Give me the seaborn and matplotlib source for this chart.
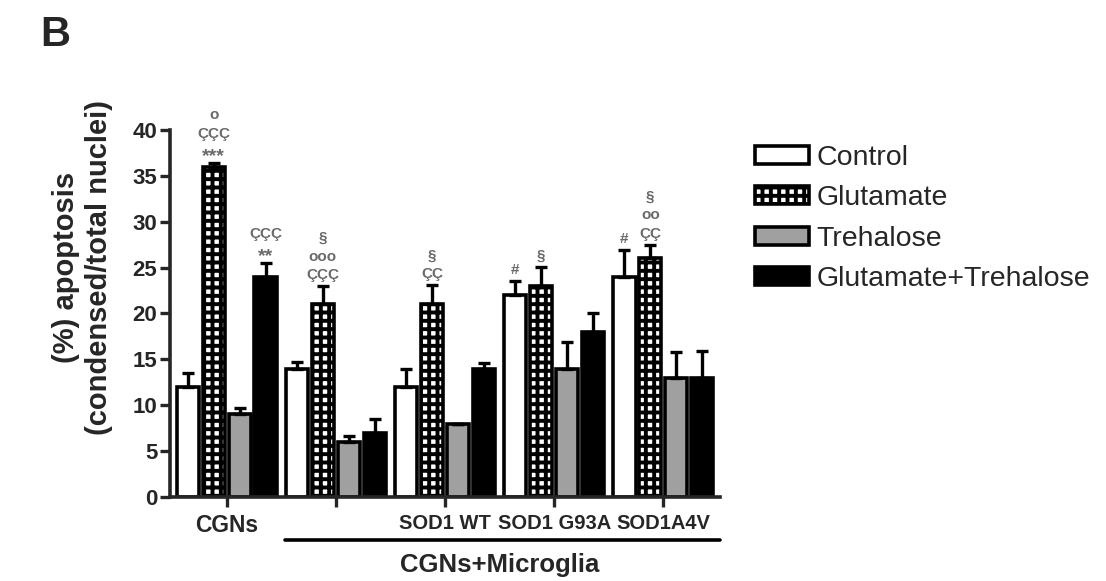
import numpy as np
import pandas as pd
import matplotlib
matplotlib.use('Agg')
import matplotlib.pyplot as plt
import seaborn as sns

# -- -- data -- --
groups = ['CGNs', ' ', 'SOD1 WT', 'SOD1 G93A', 'SOD1A4V']
treatments = ['Control', 'Glutamate', 'Trehalose', 'Glutamate+Trehalose']

control = [12, 14, 12, 22, 24]
control_err = [1.5, 0.7, 2.0, 1.5, 2.9]
glutamate = [36, 21, 21, 23, 26]
glutamate_err = [0.4, 2.0, 2.1, 2.1, 1.5]
trehalose = [9, 6, 8, 14, 13]
trehalose_err = [0.7, 0.6, 0.0, 2.9, 2.8]
glut_treh = [24, 7, 14, 18, 13]
glut_treh_err = [1.5, 1.5, 0.6, 2.0, 2.9]

# significance marks, (treatment index, group index) -> lines bottom to top
marks = {
    (1, 0): ['***', 'ÇÇÇ', 'o'],
    (3, 0): ['**', 'ÇÇÇ'],
    (1, 1): ['ÇÇÇ', 'ooo', '§'],
    (1, 2): ['ÇÇ', '§'],
    (0, 3): ['#'],
    (1, 3): ['§'],
    (0, 4): ['#'],
    (1, 4): ['ÇÇ', 'oo', '§'],
}

values = [control, glutamate, trehalose, glut_treh]
errors = [control_err, glutamate_err, trehalose_err, glut_treh_err]

df = pd.DataFrame({
    'group': np.tile(groups, len(treatments)),
    'treatment': np.repeat(treatments, len(groups)),
    'value': np.concatenate(values),
})

sns.set_style('ticks')
plt.rcParams['font.family'] = ['Liberation Sans', 'DejaVu Sans']
plt.rcParams['hatch.linewidth'] = 2.8

fig = plt.figure(figsize=(11.06, 5.81), dpi=100)
ax = fig.add_axes([0.1537, 0.1446, 0.4973, 0.6317])

sns.barplot(data=df, x='group', y='value', hue='treatment', order=groups, hue_order=treatments,
            palette=['white', 'white', '#a0a0a0', 'black'], edgecolor='black', linewidth=2.6,
            width=0.95, gap=0.14, errorbar=None, legend=False, ax=ax)

bars = list(ax.containers)
for p in bars[1]:  # glutamate bars get the checker look
    p.set_hatch('++')

for i, cont in enumerate(bars):
    xs = [p.get_x() + p.get_width() / 2 for p in cont]
    ax.errorbar(xs, values[i], yerr=[np.zeros(len(xs)), errors[i]], fmt='none', ecolor='black',
                elinewidth=2.4, capsize=4.5, capthick=2.4, zorder=1)
    for j, x in enumerate(xs):
        if (i, j) in marks:
            y0 = values[i][j] + errors[i][j] + 1.2
            for k, s in enumerate(marks[(i, j)]):
                fs = 14 if '*' in s else 11
                yy = y0 + 2.0 * k - (0.5 if '*' in s else 0)
                ax.text(x, yy, s, ha='center', va='center', fontsize=fs,
                        color='#6a6a6a', fontweight='bold', clip_on=False)

ax.set_ylim(0, 40)
ax.set_xlim(-0.52, 4.52)
ax.set_yticks(range(0, 41, 5))
ax.set_xlabel('')
ax.set_ylabel('(%) apoptosis\n(condensed/total nuclei)', fontsize=21, fontweight='bold', linespacing=1.25)
ax.yaxis.set_label_coords(-0.103, 0.625)
sns.despine(ax=ax)
for side in ['left', 'bottom']:
    ax.spines[side].set_linewidth(2.6)
ax.tick_params(axis='both', width=2.4, length=7, direction='out')
ax.tick_params(axis='y', labelsize=16, pad=2)
ax.tick_params(axis='x', labelsize=14.5, pad=5)
for lab in ax.get_yticklabels() + ax.get_xticklabels():
    lab.set_fontweight('bold')
ax.get_xticklabels()[0].set_fontsize(16.5)

# bracket for the microglia co-cultures
ax.plot([0.53, 4.52], [-0.117, -0.117], color='black', lw=2.6, clip_on=False,
        transform=ax.get_xaxis_transform())
ax.text(2.5, -0.185, 'CGNs+Microglia', ha='center', va='center', fontsize=18.5,
        fontweight='bold', transform=ax.get_xaxis_transform())

fig.text(0.036, 0.975, 'B', fontsize=30, fontweight='bold', va='top')

leg = ax.legend(handles=bars, labels=treatments, loc='upper left',
                bbox_to_anchor=(0.683, 0.750), bbox_transform=fig.transFigure,
                frameon=False, fontsize=20.5, handlelength=1.9, handleheight=0.6,
                handletextpad=0.25, labelspacing=0.5, borderpad=0, borderaxespad=0)

fig.savefig('out.png', dpi=100)
